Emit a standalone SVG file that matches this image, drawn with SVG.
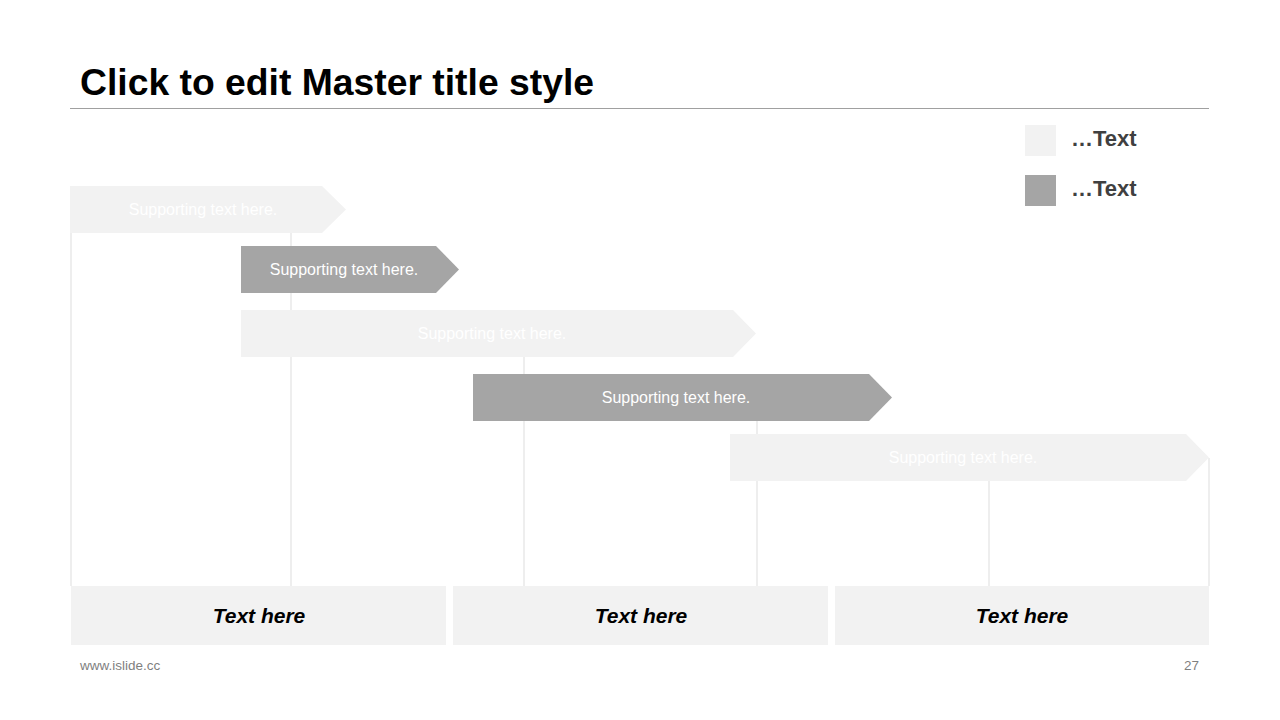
<svg xmlns="http://www.w3.org/2000/svg" width="1280" height="720" viewBox="0 0 1280 720">
<style>
.grid{stroke:#e3e3e3;stroke-width:1.2;fill:none}
.light{fill:#f2f2f2}
.dark{fill:#a5a5a5}
.sup{font-family:"Liberation Sans",Arial,sans-serif;font-size:16px;fill:#ffffff;text-anchor:middle}
.box{font-family:"Liberation Sans",Arial,sans-serif;font-size:21px;font-weight:bold;font-style:italic;fill:#000;text-anchor:middle}
.leg{font-family:"Liberation Sans",Arial,sans-serif;font-size:22px;font-weight:bold;fill:#404040}
.foot{font-family:"Liberation Sans",Arial,sans-serif;font-size:13.5px;fill:#7f7f7f}
</style>
<rect width="1280" height="720" fill="#ffffff"/>
<g id="title">
<text x="80" y="95" font-family="'Liberation Sans',Arial,sans-serif" font-size="36" font-weight="bold" fill="#000" textLength="514" lengthAdjust="spacingAndGlyphs">Click to edit Master title style</text>
<line x1="70" y1="108.5" x2="1209" y2="108.5" stroke="#a0a0a0" stroke-width="1"/>
</g>
<g id="connectors">
<line class="grid" x1="71" y1="233" x2="71" y2="586"/>
<line class="grid" x1="291" y1="233" x2="291" y2="586"/>
<line class="grid" x1="524" y1="357" x2="524" y2="586"/>
<line class="grid" x1="757" y1="421" x2="757" y2="586"/>
<line class="grid" x1="989" y1="481" x2="989" y2="586"/>
<line class="grid" x1="1209" y1="458" x2="1209" y2="586"/>
</g>
<g id="arrow1">
<polygon class="light" points="70,186 322,186 346,209.5 322,233 70,233"/>
<text class="sup" x="203" y="215">Supporting text here.</text>
</g>
<g id="arrow2">
<polygon class="dark" points="241,246 436,246 459,269.5 436,293 241,293"/>
<text class="sup" x="344" y="275">Supporting text here.</text>
</g>
<g id="arrow3">
<polygon class="light" points="241,310 733,310 756,333.5 733,357 241,357"/>
<text class="sup" x="492" y="339">Supporting text here.</text>
</g>
<g id="arrow4">
<polygon class="dark" points="473,374 869,374 892,397.5 869,421 473,421"/>
<text class="sup" x="676" y="403">Supporting text here.</text>
</g>
<g id="arrow5">
<polygon class="light" points="730,434 1186,434 1209,457.5 1186,481 730,481"/>
<text class="sup" x="963" y="463">Supporting text here.</text>
</g>
<g id="box1">
<rect class="light" x="71" y="586" width="375" height="59"/>
<text class="box" x="259" y="623">Text here</text>
</g>
<g id="box2">
<rect class="light" x="453" y="586" width="375" height="59"/>
<text class="box" x="641" y="623">Text here</text>
</g>
<g id="box3">
<rect class="light" x="835" y="586" width="374" height="59"/>
<text class="box" x="1022" y="623">Text here</text>
</g>
<g id="legend">
<rect class="light" x="1025" y="125" width="31" height="31"/>
<text class="leg" x="1071" y="146">…Text</text>
<rect class="dark" x="1025" y="175" width="31" height="31"/>
<text class="leg" x="1071" y="196">…Text</text>
</g>
<g id="footer">
<text class="foot" x="80" y="670">www.islide.cc</text>
<text class="foot" x="1199" y="670" text-anchor="end">27</text>
</g>
</svg>
